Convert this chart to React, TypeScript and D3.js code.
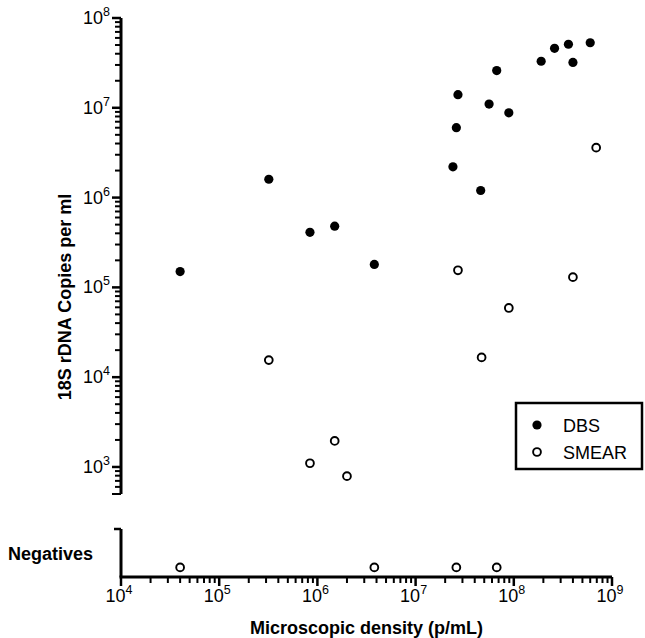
import React from "react";
import { select, scaleLog, scaleLinear } from "d3";

// values (density p/mL, 18S copies per ml)
const dbsDensity = [4.0e4, 3.2e5, 8.4e5, 1.5e6, 3.8e6, 2.4e7, 2.6e7, 2.7e7, 4.6e7, 5.6e7, 6.7e7, 8.9e7, 1.9e8, 2.6e8, 3.6e8, 4.0e8, 6.0e8];
const dbsCopies = [1.5e5, 1.6e6, 4.1e5, 4.8e5, 1.8e5, 2.2e6, 6.0e6, 1.4e7, 1.2e6, 1.1e7, 2.6e7, 8.8e6, 3.3e7, 4.6e7, 5.1e7, 3.2e7, 5.3e7];
const smearDensity = [3.2e5, 8.4e5, 1.5e6, 2.0e6, 2.7e7, 4.7e7, 8.9e7, 4.0e8, 6.9e8];
const smearCopies = [1.55e4, 1.1e3, 1.95e3, 7.9e2, 1.55e5, 1.66e4, 5.9e4, 1.3e5, 3.6e6];
const negativeDensity = [4.0e4, 3.8e6, 2.6e7, 6.7e7];
const xTickExponents = [4, 5, 6, 7, 8, 9];
const yTickExponents = [3, 4, 5, 6, 7, 8];
const legendLabels = ["DBS", "SMEAR"];

const FONT = "'Liberation Sans', Arial, Helvetica, sans-serif";

export default function App() {
  const svgRef = React.useRef<SVGSVGElement>(null);

  React.useEffect(() => {
    const svg = select(svgRef.current);
    svg.selectAll("*").remove();

    const x = scaleLog().domain([1e4, 1e9]).range([121, 612]);
    const y = scaleLog().domain([500, 1e8]).range([494, 18]);
    // negatives strip under the main panel
    const yNeg = scaleLinear().domain([0, 1]).range([577, 529]);

    const isMajor = (t: number) => Math.abs(Math.log10(t) - Math.round(Math.log10(t))) < 1e-9;

    // y axis (main)
    const yAxis = svg.append("g");
    yAxis
      .append("line")
      .attr("x1", 121)
      .attr("x2", 121)
      .attr("y1", y(500))
      .attr("y2", y(1e8))
      .attr("stroke", "#000")
      .attr("stroke-width", 3);
    yAxis
      .selectAll(".ytick")
      .data(y.ticks())
      .join("line")
      .attr("class", "ytick")
      .attr("x1", t => (isMajor(t) || t === 500 ? 112 : 115))
      .attr("x2", 121)
      .attr("y1", t => y(t))
      .attr("y2", t => y(t))
      .attr("stroke", "#000")
      .attr("stroke-width", t => (isMajor(t) ? 2.5 : 2));
    const yLab = yAxis
      .selectAll(".ylab")
      .data(yTickExponents)
      .join("text")
      .attr("class", "ylab")
      .attr("x", 110)
      .attr("y", e => y(Math.pow(10, e)) + 6)
      .attr("text-anchor", "end")
      .attr("font-family", FONT)
      .attr("font-size", 18);
    yLab.append("tspan").text("10");
    yLab
      .append("tspan")
      .attr("dy", -8)
      .attr("font-size", 12.5)
      .text(e => String(e));

    // negatives strip axis
    svg
      .append("line")
      .attr("x1", 121)
      .attr("x2", 121)
      .attr("y1", yNeg(1))
      .attr("y2", yNeg(0))
      .attr("stroke", "#000")
      .attr("stroke-width", 3);
    svg
      .append("line")
      .attr("x1", 114)
      .attr("x2", 121)
      .attr("y1", yNeg(1))
      .attr("y2", yNeg(1))
      .attr("stroke", "#000")
      .attr("stroke-width", 2.5);
    svg
      .append("text")
      .attr("x", 8)
      .attr("y", yNeg(0.5) + 6.5)
      .attr("font-family", FONT)
      .attr("font-size", 18)
      .attr("font-weight", "bold")
      .text("Negatives");

    // x axis
    const xAxis = svg.append("g");
    xAxis
      .append("line")
      .attr("x1", x(1e4) - 1.5)
      .attr("x2", x(1e9))
      .attr("y1", 577)
      .attr("y2", 577)
      .attr("stroke", "#000")
      .attr("stroke-width", 3);
    xAxis
      .selectAll(".xtick")
      .data(x.ticks())
      .join("line")
      .attr("class", "xtick")
      .attr("x1", t => x(t))
      .attr("x2", t => x(t))
      .attr("y1", 577)
      .attr("y2", t => (isMajor(t) ? 586 : 583))
      .attr("stroke", "#000")
      .attr("stroke-width", t => (isMajor(t) ? 2.5 : 2));
    const xLab = xAxis
      .selectAll(".xlab")
      .data(xTickExponents)
      .join("text")
      .attr("class", "xlab")
      .attr("x", e => x(Math.pow(10, e)) - 2)
      .attr("y", 602)
      .attr("text-anchor", "middle")
      .attr("font-family", FONT)
      .attr("font-size", 18);
    xLab.append("tspan").text("10");
    xLab
      .append("tspan")
      .attr("dy", -8)
      .attr("font-size", 12.5)
      .text(e => String(e));

    // titles
    svg
      .append("text")
      .attr("x", (x(1e4) + x(1e9)) / 2)
      .attr("y", 634)
      .attr("text-anchor", "middle")
      .attr("font-family", FONT)
      .attr("font-size", 18)
      .attr("font-weight", "bold")
      .text("Microscopic density (p/mL)");
    svg
      .append("text")
      .attr("transform", `translate(71,${(y(500) + y(1e8)) / 2 + 41}) rotate(-90)`)
      .attr("text-anchor", "middle")
      .attr("font-family", FONT)
      .attr("font-size", 18)
      .attr("font-weight", "bold")
      .text("18S rDNA Copies per ml");

    // points
    svg
      .selectAll(".dbs")
      .data(dbsDensity)
      .join("circle")
      .attr("class", "dbs")
      .attr("cx", d => x(d))
      .attr("cy", (_, i) => y(dbsCopies[i]))
      .attr("r", 4.6)
      .attr("fill", "#000");
    svg
      .selectAll(".smear")
      .data(smearDensity)
      .join("circle")
      .attr("class", "smear")
      .attr("cx", d => x(d))
      .attr("cy", (_, i) => y(smearCopies[i]))
      .attr("r", 3.9)
      .attr("fill", "#fff")
      .attr("stroke", "#000")
      .attr("stroke-width", 1.9);
    svg
      .selectAll(".neg")
      .data(negativeDensity)
      .join("circle")
      .attr("class", "neg")
      .attr("cx", d => x(d))
      .attr("cy", yNeg(0.2))
      .attr("r", 3.9)
      .attr("fill", "#fff")
      .attr("stroke", "#000")
      .attr("stroke-width", 1.9);

    // legend
    const lg = svg.append("g").attr("transform", "translate(516,403)");
    lg.append("rect")
      .attr("width", 126)
      .attr("height", 66)
      .attr("fill", "#fff")
      .attr("stroke", "#000")
      .attr("stroke-width", 2.5);
    const row = lg
      .selectAll(".row")
      .data(legendLabels)
      .join("g")
      .attr("class", "row")
      .attr("transform", (_, i) => `translate(0,${22 + i * 27})`);
    row
      .append("circle")
      .attr("cx", 21)
      .attr("r", (_, i) => (i === 0 ? 4.6 : 3.9))
      .attr("fill", (_, i) => (i === 0 ? "#000" : "#fff"))
      .attr("stroke", "#000")
      .attr("stroke-width", (_, i) => (i === 0 ? 0 : 1.9));
    row
      .append("text")
      .attr("x", 47)
      .attr("y", 6.5)
      .attr("font-family", FONT)
      .attr("font-size", 18)
      .text(d => d);
  }, []);

  return (
    <svg
      ref={svgRef}
      width={645}
      height={638}
      style={{ position: "absolute", left: 0, top: 0, background: "#fff" }}
    />
  );
}
